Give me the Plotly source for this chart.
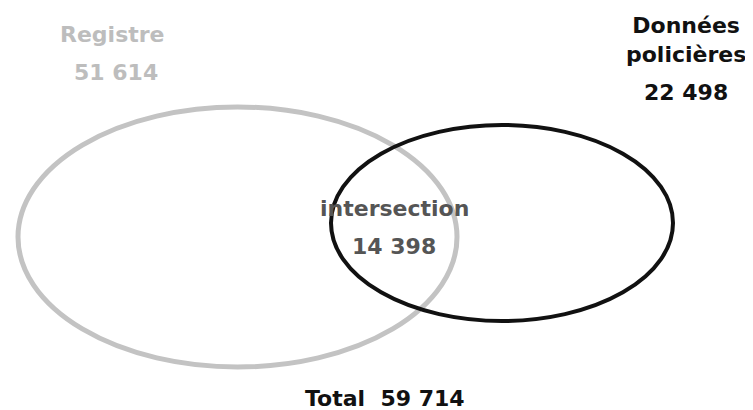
import plotly.graph_objects as go

sets = ["Registre", "Données<br>policières"]
set_values = [51614, 22498]
intersection_label = "intersection"
intersection_value = 14398
total_label = "Total"
total_value = 59714

def fmt(v):
    return f"{v:,}".replace(",", " ")

# page body has an 8px default margin: shift the coordinate frame so that
# data coordinates equal window pixels
OFF = 8
W, H = 753, 410
fig = go.Figure()

fig.add_shape(type="circle", xref="x", yref="y", x0=18, x1=457, y0=107, y1=367,
              line=dict(color="#c3c3c3", width=5))
fig.add_shape(type="circle", xref="x", yref="y", x0=331, x1=673, y0=125, y1=321,
              line=dict(color="#111111", width=4))

font = "DejaVu Sans"
texts = [
    (112, 34, f"<b>{sets[0]}</b>", "#bdbdbd", 22),
    (116, 72, f"<b>{fmt(set_values[0])}</b>", "#bdbdbd", 22),
    (686, 40, f"<b>{sets[1]}</b>", "#111111", 22),
    (686, 92, f"<b>{fmt(set_values[1])}</b>", "#111111", 22),
    (394, 208, f"<b>{intersection_label}</b>", "#555555", 22),
    (394, 246, f"<b>{fmt(intersection_value)}</b>", "#555555", 22),
    (385, 398, f"<b>{total_label}  {fmt(total_value)}</b>", "#111111", 22),
]
for x, y, t, c, s in texts:
    fig.add_annotation(x=x, y=y, xref="x", yref="y", text=t, showarrow=False,
                       font=dict(family=font, size=s, color=c), align="center")

fig.update_layout(width=W - OFF, height=H - OFF, margin=dict(l=0, r=0, t=0, b=0),
                  paper_bgcolor="white", plot_bgcolor="white", showlegend=False)
fig.update_xaxes(range=[OFF, W], visible=False, fixedrange=True)
fig.update_yaxes(range=[H, OFF], visible=False, fixedrange=True)
fig.write_html("out.html")
